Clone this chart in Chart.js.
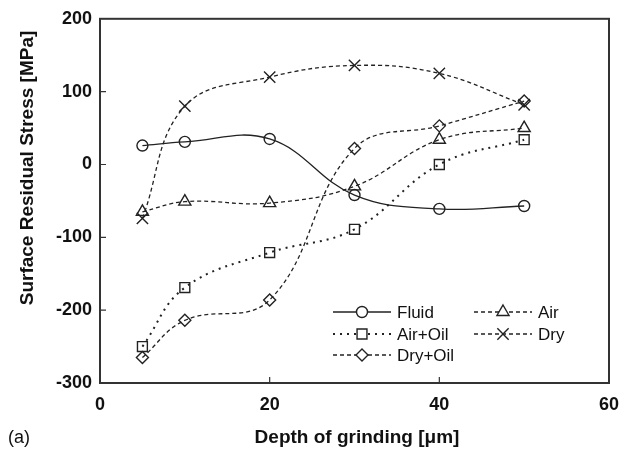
<!DOCTYPE html>
<html>
<head>
<meta charset="utf-8">
<script src="https://cdn.jsdelivr.net/npm/chart.js@4.4.1/dist/chart.umd.min.js"></script>
<style>
  html, body { margin: 0; padding: 0; background: #fff; }
  #wrap { width: 631px; height: 460px; }
</style>
</head>
<body>
<div id="wrap"><canvas id="stressChart" width="631" height="460"></canvas></div>
<script>
// depth of grinding [um]
const depths = [5, 10, 20, 30, 40, 50];

// surface residual stress [MPa]
const fluid   = [26, 31, 35, -42, -61, -57];
const air     = [-65, -51, -53, -30, 34, 50];
const airOil  = [-250, -169, -121, -89, 0, 34];
const dry     = [-74, 80, 120, 136, 125, 82];
const dryOil  = [-265, -214, -186, 22, 53, 87];

const xTicks = [0, 20, 40, 60];
const yTicks = [-300, -200, -100, 0, 100, 200];

const ink = '#222';

function pts(vals) {
    return depths.map((d, i) => ({ x: d, y: vals[i] }));
}

function series(label, vals, style, radius, dash, width) {
    return {
        label,
        data: pts(vals),
        borderColor: ink,
        borderWidth: width,
        borderDash: dash,
        pointStyle: style,
        pointRadius: radius,
        pointBorderWidth: 1.4,
        pointBorderColor: ink,
        pointBackgroundColor: 'rgba(0,0,0,0)',
        tension: 0.4,
        fill: false
    };
}

const datasets = [
    series('Fluid', fluid, 'circle', 5.5, [], 1.3),
    series('Air', air, 'triangle', 7, [4, 3], 1.3),
    series('Air+Oil', airOil, 'rect', 7, [2, 5], 2),
    series('Dry', dry, 'crossRot', 8, [4, 3], 1.3),
    series('Dry+Oil', dryOil, 'rectRot', 6, [4, 3], 1.3)
];

// legend rows drawn inside the plot box, as in the figure
const legendSlots = [
    { i: 0, x: 333, y: 312 },
    { i: 1, x: 474, y: 312 },
    { i: 2, x: 333, y: 334 },
    { i: 3, x: 474, y: 334 },
    { i: 4, x: 333, y: 355 }
];

const framePlugin = {
    id: 'frame',
    afterDraw(chart) {
        const { ctx, chartArea: a, scales } = chart;
        ctx.save();

        // box
        ctx.strokeStyle = '#333';
        ctx.lineWidth = 2;
        ctx.strokeRect(a.left, a.top, a.right - a.left, a.bottom - a.top);

        // inward ticks
        ctx.lineWidth = 1.2;
        ctx.beginPath();
        xTicks.slice(1, -1).forEach(v => {
            const px = scales.x.getPixelForValue(v);
            ctx.moveTo(px, a.bottom);
            ctx.lineTo(px, a.bottom - 6);
        });
        yTicks.slice(1, -1).forEach(v => {
            const py = scales.y.getPixelForValue(v);
            ctx.moveTo(a.left, py);
            ctx.lineTo(a.left + 6, py);
        });
        ctx.stroke();

        // legend
        legendSlots.forEach(s => {
            const ds = chart.data.datasets[s.i];
            ctx.strokeStyle = ink;
            ctx.lineWidth = ds.borderWidth;
            ctx.setLineDash(ds.borderDash);
            ctx.beginPath();
            ctx.moveTo(s.x, s.y);
            ctx.lineTo(s.x + 58, s.y);
            ctx.stroke();
            ctx.setLineDash([]);
            ctx.lineWidth = 1.4;
            ctx.fillStyle = '#fff';
            Chart.helpers.drawPoint(ctx, {
                pointStyle: ds.pointStyle,
                radius: ds.pointRadius,
                borderWidth: 1.4,
                rotation: 0
            }, s.x + 29, s.y);
            ctx.fillStyle = '#111';
            ctx.font = '17px "Liberation Sans", Arial, sans-serif';
            ctx.textBaseline = 'middle';
            ctx.textAlign = 'left';
            ctx.fillText(ds.label, s.x + 64, s.y + 1);
        });

        // axis titles and panel mark
        ctx.fillStyle = '#111';
        ctx.font = 'bold 19px "Liberation Sans", Arial, sans-serif';
        ctx.textAlign = 'center';
        ctx.textBaseline = 'middle';
        ctx.fillText('Depth of grinding [\u03bcm]', 357, 438);
        ctx.save();
        ctx.translate(28, 168);
        ctx.rotate(-Math.PI / 2);
        ctx.fillText('Surface Residual Stress [MPa]', 0, 0);
        ctx.restore();

        ctx.font = '18px "Liberation Sans", Arial, sans-serif';
        ctx.textAlign = 'left';
        ctx.fillText('(a)', 8, 438);
        ctx.restore();
    }
};

new Chart(document.getElementById('stressChart').getContext('2d'), {
    type: 'line',
    data: { datasets },
    options: {
        responsive: false,
        animation: false,
        layout: { padding: { left: 0, right: 22, top: 15, bottom: 0 } },
        plugins: { legend: { display: false }, tooltip: { enabled: false } },
        scales: {
            x: {
                type: 'linear',
                min: 0,
                max: 60,
                afterBuildTicks: s => { s.ticks = xTicks.map(v => ({ value: v })); },
                afterFit: s => { s.height = 77; },
                grid: { display: false, drawTicks: false },
                border: { display: false },
                ticks: {
                    color: '#111',
                    padding: 11,
                    maxRotation: 0,
                    font: { family: '"Liberation Sans", Arial, sans-serif', size: 18, weight: 'bold' }
                }
            },
            y: {
                min: -300,
                max: 200,
                afterBuildTicks: s => { s.ticks = yTicks.map(v => ({ value: v })); },
                afterFit: s => { s.width = 100; },
                grid: { display: false, drawTicks: false },
                border: { display: false },
                ticks: {
                    color: '#111',
                    padding: 8,
                    font: { family: '"Liberation Sans", Arial, sans-serif', size: 18, weight: 'bold' }
                }
            }
        }
    },
    plugins: [framePlugin]
});
</script>
</body>
</html>
